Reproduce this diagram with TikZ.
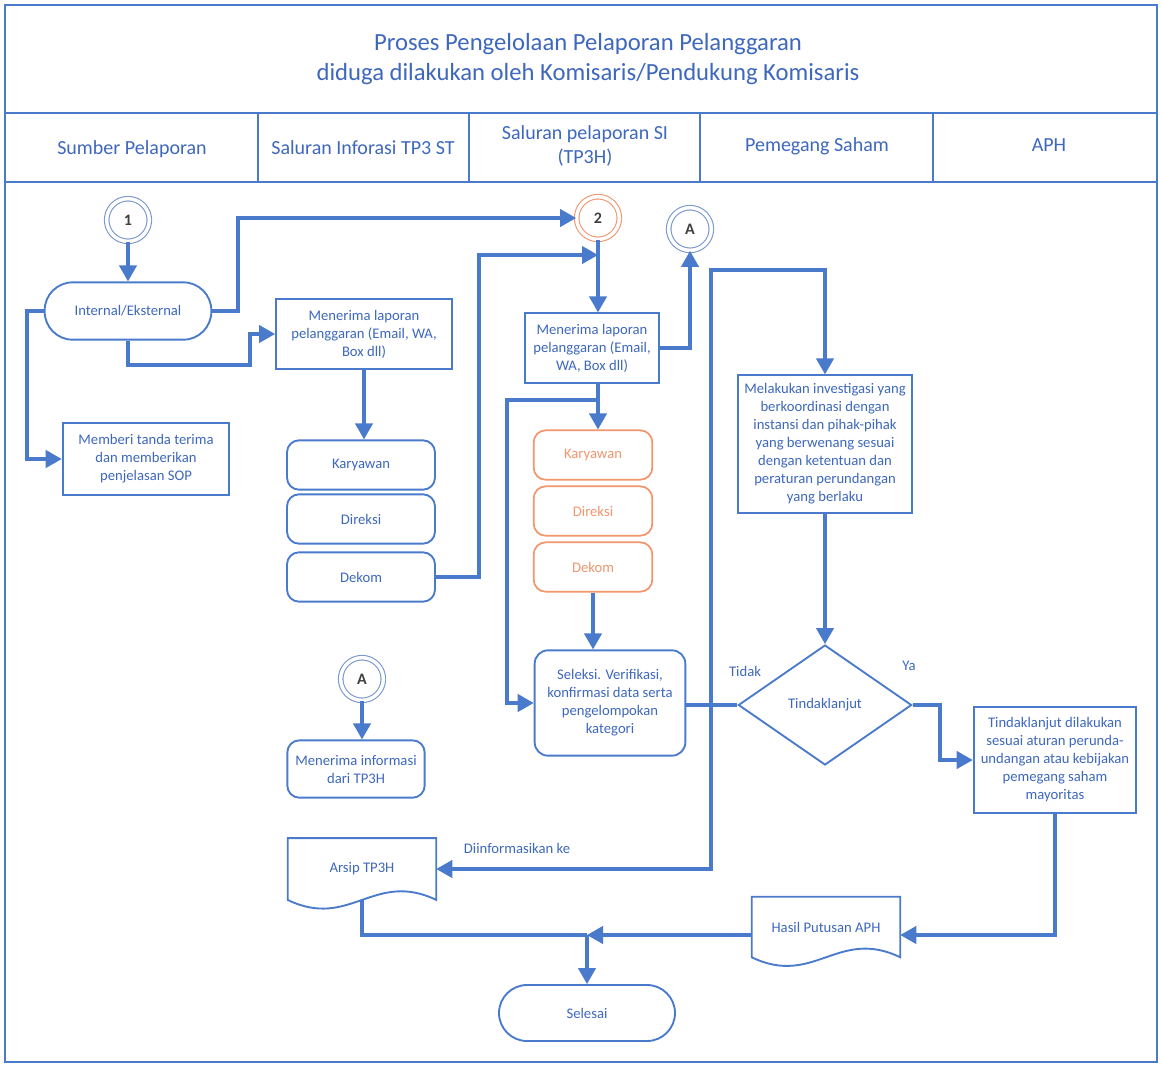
\documentclass[tikz,border=0pt]{standalone}
\usepackage{fontspec}
\setmainfont{Carlito}
\usetikzlibrary{arrows.meta, shapes.geometric, positioning, calc}
\definecolor{flowblue}  {RGB}{74, 122, 204}
\definecolor{textblue}  {RGB}{62, 104, 190}
\definecolor{flowgray}  {RGB}{120, 150, 205}
\definecolor{floworange}{RGB}{242, 150, 110}

\begin{document}
\begin{tikzpicture}[x=0.75pt,y=-0.75pt,
	every node/.style={font=\fontsize{11}{13.5}\selectfont, text=textblue, align=center, inner sep=2pt},
	box/.style={draw=flowblue, line width=1.4pt},
	roundbox/.style={box, rounded corners=9pt},
	pill/.style={box, rounded corners=21pt},
	orangebox/.style={draw=floworange, line width=1.3pt, rounded corners=9pt, text=floworange},
	joint/.style={circle, draw=#1, double, double distance=2.6pt, line width=0.8pt, minimum size=32pt,
		inner sep=0pt, text=black!75, font=\fontsize{12}{14}\selectfont\bfseries},
	docbody/.style={minimum width=111pt, inner sep=0pt},
	frame/.style={draw=flowblue, line width=1.5pt},
	lane/.style={font=\fontsize{15}{17.5}\selectfont},
	link/.style={draw=flowblue, line width=2.3pt},
	flow/.style={link, -{Triangle[length=12pt,width=13pt]}}
	]
	\useasboundingbox[fill=white] (0,0) rectangle (1161,1065);
	% frame and lane headers
	\draw[frame] (5,5) rectangle (1157,1062);
	\draw[frame] (5,113) -- (1157,113) (5,182) -- (1157,182);
	\foreach \x in {258,469,700,933}{\draw[frame] (\x,113) -- (\x,182);}
	\node[font=\fontsize{18.5}{22}\selectfont] (title) at (588,59) {Proses Pengelolaan Pelaporan Pelanggaran\\
		diduga dilakukan oleh Komisaris/Pendukung Komisaris};
	\node[lane] (hdSumber) at (132,149) {Sumber Pelaporan};
	\node[lane] (hdSaluran) at (363,148) {Saluran Inforasi TP3 ST};
	\node[lane] (hdTP3H) at (585,146) {Saluran pelaporan SI\\(TP3H)};
	\node[lane] (hdSaham) at (817,146) {Pemegang Saham};
	\node[lane] (hdAPH) at (1049,145) {APH};

	% sumber pelaporan
	\node[joint=flowgray] (c1) at (128,220) {1};
	\node[pill, minimum width=125pt, minimum height=43pt] (intext) at (128,311) {Internal/Eksternal};
	\node[box, minimum width=125pt, minimum height=54pt] (memberi) at (146,459) {Memberi tanda terima\\dan memberikan\\penjelasan SOP};

	% saluran TP3 ST
	\node[box, minimum width=132pt, minimum height=53pt] (terima1) at (364,334) {Menerima laporan\\pelanggaran (Email, WA,\\Box dll)};
	\node[roundbox, minimum width=111pt, minimum height=37pt] (kary1) at (361,465) {Karyawan};
	\node[roundbox, minimum width=111pt, minimum height=37pt] (dir1) at (361,519) {Direksi};
	\node[roundbox, minimum width=111pt, minimum height=37pt] (dek1) at (361,577) {Dekom};
	\node[joint=flowgray] (cA2) at (362,679) {A};
	\node[roundbox, minimum width=103pt, minimum height=43pt] (info) at (356,769) {Menerima informasi\\dari TP3H};
	\node[docbody, minimum height=46pt] (arsip) at (362,869) {Arsip TP3H};
	\draw[box] (arsip.north west) -- (arsip.north east) -- (arsip.south east)
		.. controls ($(arsip.south)+(12,-30)$) and ($(arsip.south)+(-12,30)$) .. (arsip.south west) -- cycle;

	% saluran TP3H
	\node[joint=floworange] (c2) at (598,218) {2};
	\node[joint=flowgray] (cA1) at (690,229) {A};
	\node[box, minimum width=101pt, minimum height=52pt] (terima2) at (592,348) {Menerima laporan\\pelanggaran (Email,\\WA, Box dll)};
	\node[orangebox, minimum width=89pt, minimum height=37pt] (kary2) at (593,455) {Karyawan};
	\node[orangebox, minimum width=89pt, minimum height=37pt] (dir2) at (593,511) {Direksi};
	\node[orangebox, minimum width=89pt, minimum height=37pt] (dek2) at (593,567) {Dekom};
	\node[roundbox, rounded corners=10pt, minimum width=113pt, minimum height=79pt] (seleksi) at (610,703) {Seleksi. Verifikasi,\\konfirmasi data serta\\pengelompokan\\kategori};

	% pemegang saham
	\node[box, minimum width=131pt, minimum height=103pt] (invest) at (825,444) {Melakukan investigasi yang\\berkoordinasi dengan\\instansi dan pihak-pihak\\yang berwenang sesuai\\dengan ketentuan dan\\peraturan perundangan\\yang berlaku};
	\node[diamond, box, minimum width=130pt, minimum height=90pt, inner sep=0pt] (tindak) at (825,705) {Tindaklanjut};
	\node[docbody, minimum height=45pt] (hasil) at (826,927) {Hasil Putusan APH};
	\draw[box] (hasil.north west) -- (hasil.north east) -- (hasil.south east)
		.. controls ($(hasil.south)+(12,-30)$) and ($(hasil.south)+(-12,30)$) .. (hasil.south west) -- cycle;
	\node[pill, minimum width=132pt, minimum height=42pt] (selesai) at (587,1013) {Selesai};

	% APH
	\node[box, minimum width=122pt, minimum height=79pt] (ikuti) at (1055,760) {Tindaklanjut dilakukan\\sesuai aturan perunda-\\undangan atau kebijakan\\pemegang saham\\mayoritas};

	% connectors
	\coordinate (join2) at (598,255);
	\coordinate (split2) at (598,400);
	\coordinate (hub) at (711,705);
	\coordinate (joinS) at (587,935);
	\draw[flow] (c1) -- (intext);
	\draw[flow] (intext.east) -- (238,311) |- (c2.west);
	\draw[flow] (intext.south) |- (250,365) |- (terima1.west);
	\draw[flow] (intext.west) -- (27,311) |- (memberi.west);
	\draw[flow] (terima1.south) -- (terima1.south |- kary1.north);
	\draw[flow] (dek1.east) -| (479,255) -- (join2);
	\draw[flow] (c2) -- (c2 |- terima2.north);
	\draw[flow] (terima2.east) -| (cA1.south);
	\draw[flow] (terima2.south -| split2) -- (kary2.north -| split2);
	\draw[flow] (split2) -- (507,400) |- (seleksi.west);
	\draw[flow] (dek2.south) -- (dek2.south |- seleksi.north);
	\draw[flow] (seleksi.east |- hub) -- (hub) -- (711,270) -| (invest.north);
	\draw[flow] (tindak.west) -- (hub) |- (arsip.east);
	\draw[flow] (invest) -- (tindak);
	\draw[flow] (tindak.east) -- (940,705) |- (ikuti.west);
	\draw[flow] (ikuti.south) |- (hasil.east |- joinS);
	\draw[flow] (hasil.west |- joinS) -- (joinS);
	\draw[link] (arsip.south) |- (joinS);
	\draw[flow] (joinS) -- (selesai);
	\draw[flow] (cA2) -- (cA2 |- info.north);
	\node (lblInfo) at (517,848) {Diinformasikan ke};
	\node (lblTidak) at (745,671) {Tidak};
	\node (lblYa) at (909,666) {Ya};
\end{tikzpicture}
\end{document}
